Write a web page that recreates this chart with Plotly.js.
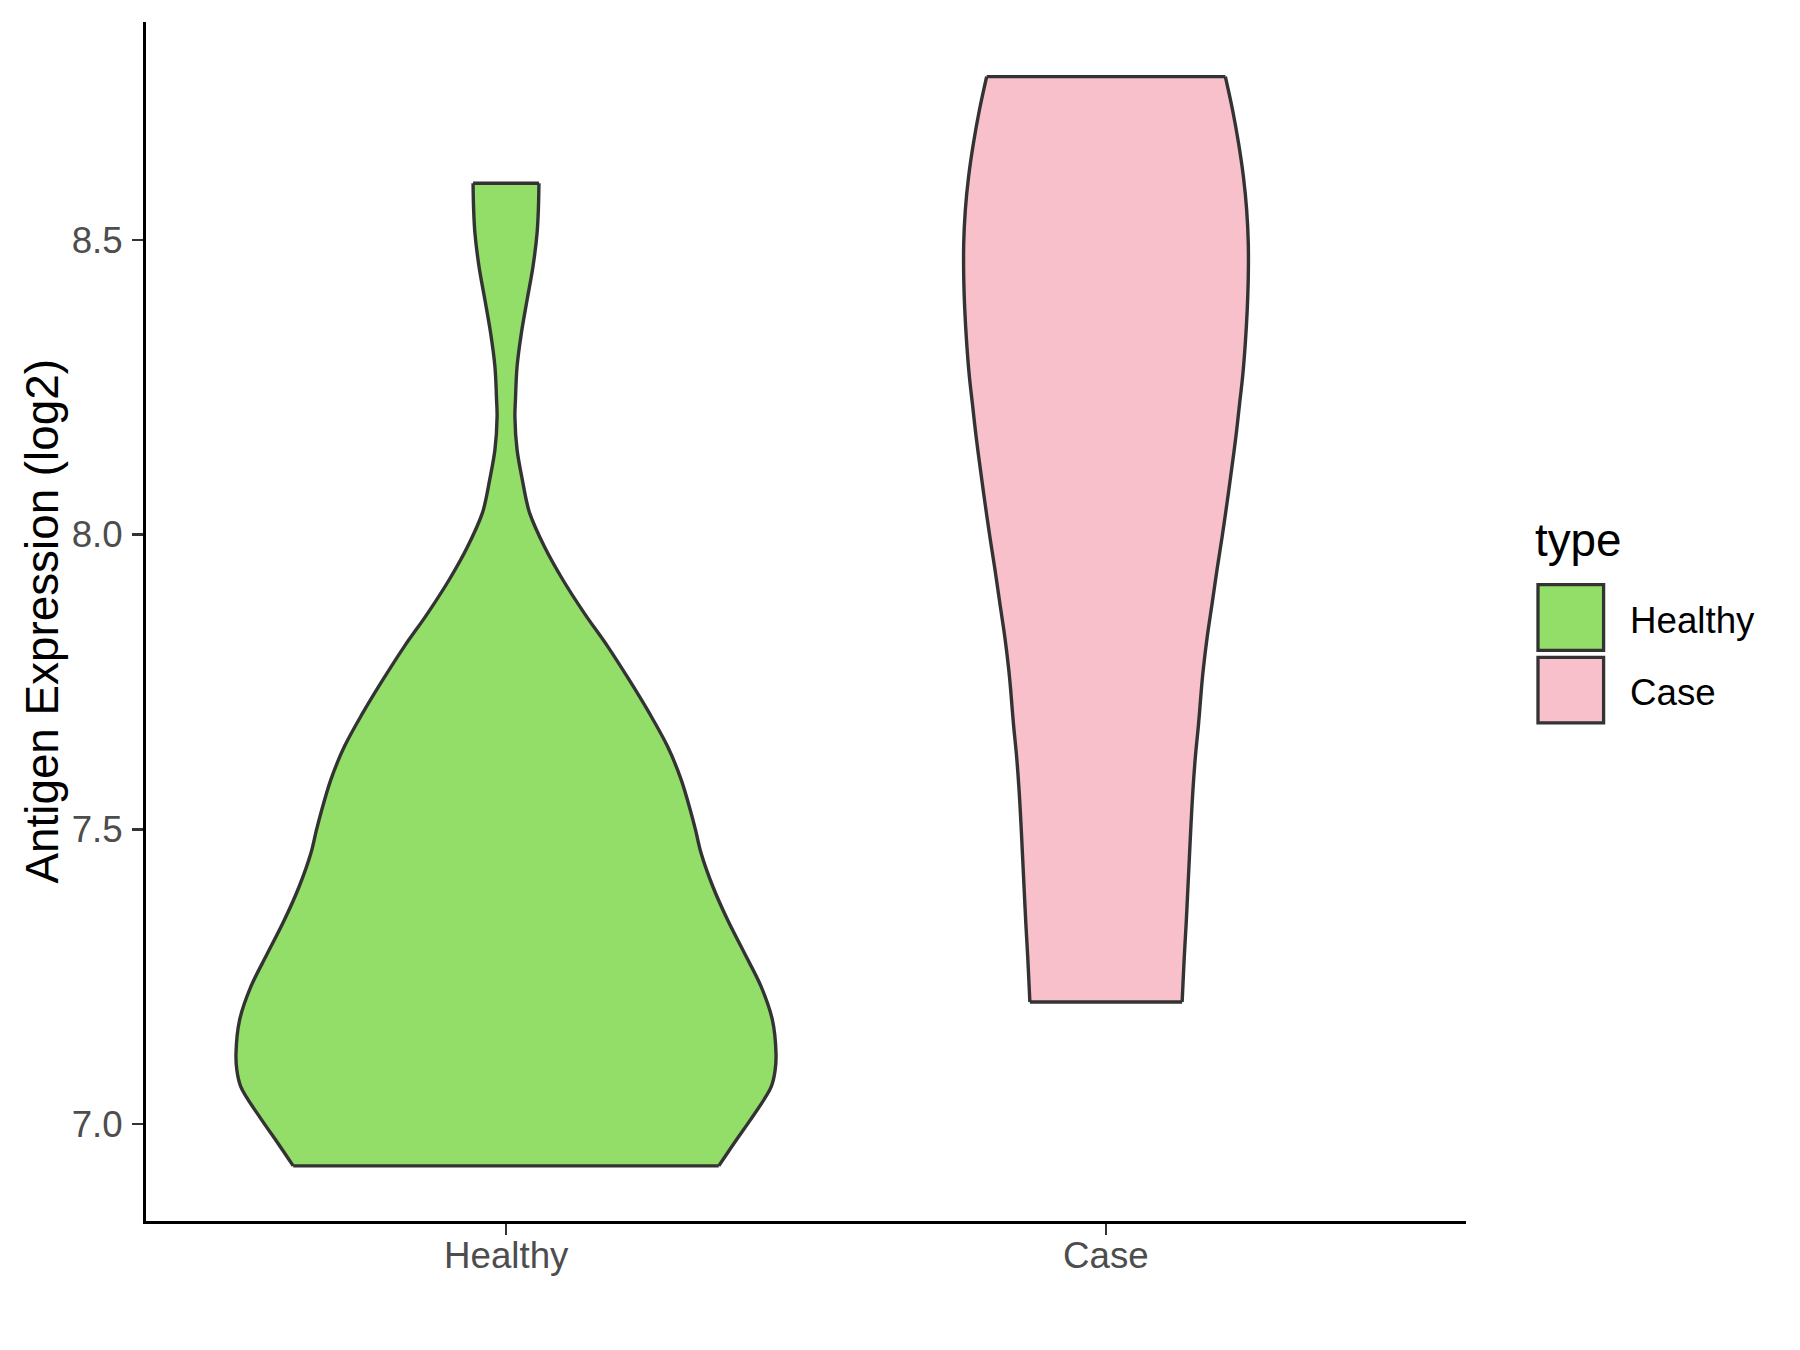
<!DOCTYPE html>
<html>
<head>
<meta charset="utf-8">
<script src="https://cdn.plot.ly/plotly-3.0.1.min.js"></script>
<style>
  html, body { margin: 0; padding: 0; background: #ffffff; }
  #chart { width: 1800px; height: 1350px; }
</style>
</head>
<body>
<div id="chart"></div>
<script>
// ---- Data ----
const categories = ['Healthy', 'Case'];
const fillColors = ['#93DD69', '#F7C0CB'];

// density profile of the Healthy group (expression value, relative density)
const yGridHealthy = [6.929, 6.973, 7.007, 7.063, 7.092, 7.120, 7.176, 7.233, 7.290, 7.346,
                      7.403, 7.459, 7.499, 7.527, 7.584, 7.640, 7.697, 7.753, 7.810, 7.866,
                      7.923, 7.979, 8.036, 8.059, 8.087, 8.144, 8.200, 8.229, 8.285, 8.342,
                      8.398, 8.455, 8.511, 8.553, 8.596];
const densityHealthy = [0.788, 0.853, 0.905, 0.982, 0.997, 1.000, 0.987, 0.945, 0.883, 0.821,
                        0.766, 0.723, 0.702, 0.686, 0.649, 0.599, 0.531, 0.457, 0.377, 0.291,
                        0.211, 0.143, 0.088, 0.075, 0.063, 0.041, 0.033, 0.035, 0.041, 0.057,
                        0.078, 0.100, 0.115, 0.120, 0.122];

// density profile of the Case group
const yGridCase = [7.207, 7.227, 7.284, 7.341, 7.397, 7.454, 7.510, 7.567, 7.623, 7.680,
                   7.736, 7.770, 7.827, 7.883, 7.940, 7.996, 8.053, 8.110, 8.166, 8.223,
                   8.268, 8.325, 8.381, 8.438, 8.494, 8.551, 8.607, 8.664, 8.720, 8.777];
const densityCase = [0.282, 0.284, 0.290, 0.297, 0.303, 0.309, 0.315, 0.322, 0.331, 0.343,
                     0.353, 0.360, 0.375, 0.393, 0.411, 0.430, 0.448, 0.465, 0.481, 0.495,
                     0.506, 0.516, 0.523, 0.527, 0.527, 0.521, 0.509, 0.491, 0.469, 0.442];

const yTickVals = [7.0, 7.5, 8.0, 8.5];
const yTickText = ['7.0', '7.5', '8.0', '8.5'];
const yTitle = 'Antigen Expression (log2)';
const legendTitle = 'type';

// ---- Build violins ----
const halfWidthMax = 0.45; // ggplot default width 0.9
const outline = { color: '#333333', width: 3.4 };
const groups = [
  { name: categories[0], y: yGridHealthy, d: densityHealthy, pos: 1, fill: fillColors[0] },
  { name: categories[1], y: yGridCase, d: densityCase, pos: 2, fill: fillColors[1] }
];

const traces = [];
groups.forEach(g => {
  const right = g.d.map(v => g.pos + v * halfWidthMax);
  const left = g.d.map(v => g.pos - v * halfWidthMax);
  // right edge (smooth)
  traces.push({
    type: 'scatter', mode: 'lines', name: g.name, x: right, y: g.y,
    line: Object.assign({ shape: 'spline', smoothing: 1 }, outline),
    showlegend: false, hoverinfo: 'skip'
  });
  // left edge, filled across to the right edge
  traces.push({
    type: 'scatter', mode: 'lines', name: g.name, x: left, y: g.y,
    fill: 'tonextx', fillcolor: g.fill,
    line: Object.assign({ shape: 'spline', smoothing: 1 }, outline),
    showlegend: false, hoverinfo: 'skip'
  });
  // flat ends at the data minimum and maximum
  const n = g.y.length - 1;
  [0, n].forEach(i => {
    traces.push({
      type: 'scatter', mode: 'lines', name: g.name,
      x: [left[i], right[i]], y: [g.y[i], g.y[i]],
      line: outline, showlegend: false, hoverinfo: 'skip'
    });
  });
});

// ---- Layout ----
const plotL = 146, plotR = 1466, plotT = 22, plotB = 1221;
const W = 1800, H = 1350;
function pxX(x) { return (x - plotL) / (plotR - plotL); }
function pxY(y) { return (plotB - y) / (plotB - plotT); }

const font = 'Liberation Sans, Arial, Helvetica, sans-serif';
const tickFont = { family: font, size: 36.7, color: '#4D4D4D' };

const shapes = [];
const annotations = [];

// x category labels
groups.forEach(g => {
  annotations.push({
    text: g.name, xref: 'x', yref: 'paper', x: g.pos, y: pxY(1255),
    xanchor: 'center', yanchor: 'middle', showarrow: false, font: tickFont
  });
});

// y axis title
annotations.push({
  text: yTitle, xref: 'paper', yref: 'paper', x: pxX(42), y: 0.5,
  xanchor: 'center', yanchor: 'middle', textangle: -90, showarrow: false,
  font: { family: font, size: 45.8, color: '#000000' }
});

// legend (ggplot style keys)
annotations.push({
  text: legendTitle, xref: 'paper', yref: 'paper', x: pxX(1533), y: pxY(540),
  xanchor: 'left', yanchor: 'middle', showarrow: false,
  font: { family: font, size: 45.8, color: '#000000' }
});
const keyTop = 584.7, keySize = 65.6, keyGap = 72.6, keyLeft = 1538;
groups.forEach((g, i) => {
  const t = keyTop + i * keyGap;
  shapes.push({
    type: 'rect', xref: 'paper', yref: 'paper',
    x0: pxX(keyLeft), x1: pxX(keyLeft + keySize),
    y0: pxY(t), y1: pxY(t + keySize),
    fillcolor: g.fill, line: { color: '#333333', width: 3.3 }
  });
  annotations.push({
    text: g.name, xref: 'paper', yref: 'paper',
    x: pxX(1628), y: pxY(t + keySize / 2 + 2.5),
    xanchor: 'left', yanchor: 'middle', showarrow: false,
    font: { family: font, size: 36.7, color: '#000000' }
  });
});

const layout = {
  width: W, height: H,
  margin: { l: plotL, r: W - plotR, t: plotT, b: H - plotB, pad: 0 },
  paper_bgcolor: '#ffffff', plot_bgcolor: '#ffffff',
  showlegend: false,
  xaxis: {
    range: [0.4, 2.6], tickmode: 'array', tickvals: [1, 2], ticktext: categories,
    showticklabels: false,
    showline: true, linecolor: '#000000', linewidth: 3,
    ticks: 'outside', ticklen: 11, tickwidth: 2.7, tickcolor: '#333333',
    tickfont: tickFont, showgrid: false, zeroline: false, fixedrange: true
  },
  yaxis: {
    range: [6.8355, 8.8697], tickmode: 'array', tickvals: yTickVals, ticktext: yTickText,
    showline: true, linecolor: '#000000', linewidth: 3,
    ticks: 'outside', ticklen: 11, tickwidth: 2.7, tickcolor: '#333333',
    ticklabelstandoff: 2,
    tickfont: tickFont, showgrid: false, zeroline: false, fixedrange: true
  },
  shapes: shapes,
  annotations: annotations
};

Plotly.newPlot('chart', traces, layout, { displayModeBar: false, staticPlot: true });
</script>
</body>
</html>
